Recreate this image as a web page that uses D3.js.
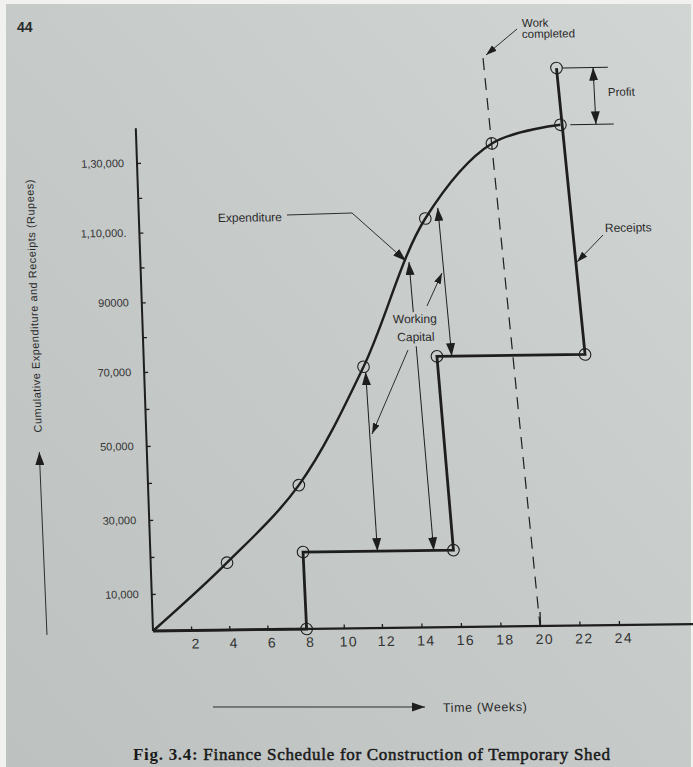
<!DOCTYPE html>
<html>
<head>
<meta charset="utf-8">
<script src="https://cdn.jsdelivr.net/npm/d3@7"></script>
<style>
  html, body { margin: 0; padding: 0; background: #fff; }
  svg { display: block; }
</style>
</head>
<body>
<script>
const W = 693, H = 767

// x axis (weeks)
const weekTicks = [2, 4, 6, 8, 10, 12, 14, 16, 18, 20, 22, 24]
const weekTickLabels = ['2', '4', '6', '8', '10', '12', '14', '16', '18', '20', '22', '24']

// y axis (rupees)
const rupeeTicks = [10000, 20000, 30000, 40000, 50000, 60000, 70000, 80000, 90000, 100000, 110000, 120000, 130000]
const rupeeLabelValues = [10000, 30000, 50000, 70000, 90000, 110000, 130000]
const rupeeLabelTexts = ['10,000', '30,000', '50,000', '70,000', '90000', '1,10,000.', '1,30,000']

// cumulative expenditure, smooth curve through the marked points
const expWeeks = [0, 4.0, 7.9, 11.5, 14.9, 18.4, 21.9]
const expRupees = [0, 18200, 38900, 70700, 113000, 134300, 139400]

// cumulative receipts, stepped line
const rcpWeeks = [0, 8.05, 8.0, 15.75, 15.25, 22.75, 21.8]
const rcpRupees = [0, 0, 20800, 20800, 73400, 73400, 155700]

// working capital double arrows
const wcTopWeeks = [11.6, 14.0, 15.55]
const wcTopRupees = [69200, 100600, 116000]
const wcBottomWeeks = [11.9, 14.75, 16.0]
const wcBottomRupees = [20800, 20800, 73400]

// work completed (dashed)
const workWeeks = [18.1, 20]
const workRupees = [158800, 0]

// profit bracket
const profitTopWeeks = [22.1, 24.4]
const profitBottomWeeks = [22.4, 24.6]
const profitArrowWeeks = [23.65, 23.7]
const profitRupees = [155700, 139400]

const ink = '#1e1e1e'
const textInk = '#2a2a2a'
const sans = "'Liberation Sans', Arial, sans-serif"

// the photographed page is slightly tilted; plot lives in a tilted frame
const OX = 153, OY = 631, B = -0.0129, C = 0.0342
function inv(X, Y) {
    const dx = X - OX, dy = Y - OY
    const px = (dx - C * dy) / (1 - B * C)
    return [px, dy - B * px]
}

const svg = d3.select('body')
    .append('svg')
    .attr('width', W)
    .attr('height', H)

const defs = svg.append('defs')
const grad = defs.append('linearGradient')
    .attr('id', 'paper')
    .attr('x1', 1).attr('y1', 0).attr('x2', 0).attr('y2', 1)
grad.append('stop').attr('offset', 0).attr('stop-color', '#d1d5d4')
grad.append('stop').attr('offset', 0.5).attr('stop-color', '#c6cac9')
grad.append('stop').attr('offset', 1).attr('stop-color', '#bdc2c0')

function marker(id, len, wid) {
    defs.append('marker')
        .attr('id', id)
        .attr('viewBox', `0 0 ${len} ${wid}`)
        .attr('refX', len)
        .attr('refY', wid / 2)
        .attr('markerWidth', len)
        .attr('markerHeight', wid)
        .attr('markerUnits', 'userSpaceOnUse')
        .attr('orient', 'auto-start-reverse')
        .append('path')
        .attr('d', `M0,0L${len},${wid / 2}L0,${wid}Z`)
        .attr('fill', ink)
}
marker('head', 13, 9)
marker('headS', 11, 7)

svg.append('rect').attr('width', W).attr('height', H).attr('fill', '#f1f1ef')
svg.append('rect')
    .attr('x', 6).attr('y', 4)
    .attr('width', W - 8).attr('height', H - 4)
    .attr('fill', 'url(#paper)')

svg.append('text')
    .attr('x', 17).attr('y', 32)
    .attr('font-family', sans)
    .attr('font-weight', 'bold')
    .attr('font-size', 14)
    .attr('fill', textInk)
    .text('44')

const title = svg.append('text')
    .attr('x', 133).attr('y', 760)
    .attr('font-family', "'Liberation Serif', 'Times New Roman', serif")
    .attr('font-size', 17)
    .attr('fill', '#1a1a1a')
    .attr('textLength', 477)
    .attr('lengthAdjust', 'spacing')
title.append('tspan').attr('font-weight', 'bold').text('Fig. 3.4: ')
title.append('tspan').attr('stroke', '#1a1a1a').attr('stroke-width', 0.5)
    .text('Finance Schedule for Construction of Temporary Shed')

const g = svg.append('g')
    .attr('transform', `matrix(1,${B},${C},1,${OX},${OY})`)

const x = d3.scaleLinear().domain([0, 12, 24]).range([0, 229, 466])
const y = d3.scaleLinear().domain([0, 70000, 130000]).range([0, -259, -468])

// axes
const xAxis = d3.axisBottom(x)
    .tickValues(weekTicks)
    .tickFormat((d, i) => weekTickLabels[i])
    .tickSize(-4)
    .tickPadding(8)

const gx = g.append('g').attr('id', 'x-axis').call(xAxis)
gx.select('.domain').remove()
gx.selectAll('line').attr('stroke', ink).attr('stroke-width', 1.3)
gx.selectAll('text')
    .attr('dx', 4)
    .attr('font-family', sans)
    .attr('font-size', 14)
    .attr('letter-spacing', 1.5)
    .attr('fill', '#333')
gx.selectAll('.tick').filter(d => d === 20).select('line').attr('y2', -14)

const yAxis = d3.axisLeft(y)
    .tickValues(rupeeTicks)
    .tickFormat(d => {
        const i = rupeeLabelValues.indexOf(d)
        return i < 0 ? '' : rupeeLabelTexts[i]
    })
    .tickSize(-4)
    .tickPadding(13)

const gy = g.append('g').attr('id', 'y-axis').call(yAxis)
gy.select('.domain').remove()
gy.selectAll('line').attr('stroke', ink).attr('stroke-width', 1.3)
gy.selectAll('text')
    .attr('font-family', sans)
    .attr('font-size', 11)
    .attr('fill', '#333')

g.append('line')
    .attr('x1', x(0)).attr('y1', y(0))
    .attr('x2', x(27.8)).attr('y2', y(0))
    .attr('stroke', ink).attr('stroke-width', 2.2)
g.append('line')
    .attr('x1', x(0)).attr('y1', y(0))
    .attr('x2', x(0)).attr('y2', y(140000))
    .attr('stroke', ink).attr('stroke-width', 2)

// work completed dashed line
g.append('line')
    .attr('x1', x(workWeeks[0])).attr('y1', y(workRupees[0]))
    .attr('x2', x(workWeeks[1])).attr('y2', y(workRupees[1]))
    .attr('stroke', ink).attr('stroke-width', 1.2)
    .attr('stroke-dasharray', '12,8')

// expenditure
const expData = expWeeks.map((w, i) => [w, expRupees[i]])
g.append('path')
    .datum(expData)
    .attr('d', d3.line().x(d => x(d[0])).y(d => y(d[1])).curve(d3.curveCatmullRom.alpha(0.5)))
    .attr('fill', 'none')
    .attr('stroke', ink)
    .attr('stroke-width', 2.4)

// receipts
const rcpData = rcpWeeks.map((w, i) => [w, rcpRupees[i]])
g.append('path')
    .datum(rcpData)
    .attr('d', d3.line().x(d => x(d[0])).y(d => y(d[1])))
    .attr('fill', 'none')
    .attr('stroke', ink)
    .attr('stroke-width', 2.8)
    .attr('stroke-linejoin', 'miter')

// marked points
g.selectAll('circle.pt')
    .data(expData.slice(1).concat(rcpData.slice(1)))
    .enter()
    .append('circle')
    .attr('class', 'pt')
    .attr('cx', d => x(d[0]))
    .attr('cy', d => y(d[1]))
    .attr('r', 5.8)
    .attr('fill', 'none')
    .attr('stroke', ink)
    .attr('stroke-width', 1.1)

// working capital arrows (middle one broken by its label)
wcTopWeeks.forEach((w, i) => {
    const p0 = [x(w), y(wcTopRupees[i])]
    const p1 = [x(wcBottomWeeks[i]), y(wcBottomRupees[i])]
    const lerp = d3.interpolate(p0, p1)
    const parts = i === 1 ? [[0, 0.174], [0.292, 1]] : [[0, 1]]
    parts.forEach(([a, b]) => {
        const seg = g.append('line')
            .attr('x1', lerp(a)[0]).attr('y1', lerp(a)[1])
            .attr('x2', lerp(b)[0]).attr('y2', lerp(b)[1])
            .attr('stroke', ink).attr('stroke-width', 1)
        if (a === 0) seg.attr('marker-start', 'url(#head)')
        if (b === 1) seg.attr('marker-end', 'url(#head)')
    })
})

// profit bracket
g.append('line')
    .attr('x1', x(profitTopWeeks[0])).attr('y1', y(profitRupees[0]))
    .attr('x2', x(profitTopWeeks[1])).attr('y2', y(profitRupees[0]))
    .attr('stroke', ink).attr('stroke-width', 1)
g.append('line')
    .attr('x1', x(profitBottomWeeks[0])).attr('y1', y(profitRupees[1]))
    .attr('x2', x(profitBottomWeeks[1])).attr('y2', y(profitRupees[1]))
    .attr('stroke', ink).attr('stroke-width', 1)
g.append('line')
    .attr('x1', x(profitArrowWeeks[0])).attr('y1', y(profitRupees[0]))
    .attr('x2', x(profitArrowWeeks[1])).attr('y2', y(profitRupees[1]))
    .attr('stroke', ink).attr('stroke-width', 1)
    .attr('marker-start', 'url(#head)')
    .attr('marker-end', 'url(#head)')

// annotations, placed at page positions
function leader(pts, m) {
    g.append('path')
        .attr('d', d3.line()(pts.map(p => inv(p[0], p[1]))))
        .attr('fill', 'none')
        .attr('stroke', ink)
        .attr('stroke-width', 0.9)
        .attr('marker-end', `url(#${m})`)
}
function label(X, Y, txt, anchor, size) {
    const p = inv(X, Y)
    return g.append('text')
        .attr('x', p[0]).attr('y', p[1])
        .attr('text-anchor', anchor || 'start')
        .attr('font-family', sans)
        .attr('font-size', size || 12)
        .attr('fill', textInk)
        .text(txt)
}

label(218, 222, 'Expenditure')
leader([[287, 215], [352, 213], [406, 261]], 'head')

label(415, 323, 'Working', 'middle')
label(416, 341, 'Capital', 'middle')
leader([[427, 306], [442, 273]], 'headS')
leader([[408, 350], [372, 434]], 'headS')

label(605, 232, 'Receipts')
leader([[603, 235], [577, 262]], 'headS')

label(608, 96, 'Profit', 'start', 11.5)

label(522, 27, 'Work', 'start', 11.5)
label(522, 38, 'completed', 'start', 11.5)
leader([[517, 29], [486, 55]], 'headS')

// axis titles
const yl = inv(37.5, 306)
g.append('text')
    .attr('transform', `translate(${yl[0]},${yl[1]}) rotate(-90)`)
    .attr('text-anchor', 'middle')
    .attr('font-family', sans)
    .attr('font-size', 11)
    .attr('fill', textInk)
    .attr('textLength', 253)
    .attr('lengthAdjust', 'spacing')
    .text('Cumulative Expenditure and Receipts (Rupees)')
leader([[47, 635], [39.3, 452]], 'head')

leader([[213, 707], [425, 707]], 'head')
const tl = inv(443, 712)
g.append('text')
    .attr('x', tl[0]).attr('y', tl[1])
    .attr('font-family', sans)
    .attr('font-size', 12.5)
    .attr('fill', textInk)
    .attr('textLength', 84)
    .attr('lengthAdjust', 'spacing')
    .text('Time (Weeks)')
</script>
</body>
</html>
